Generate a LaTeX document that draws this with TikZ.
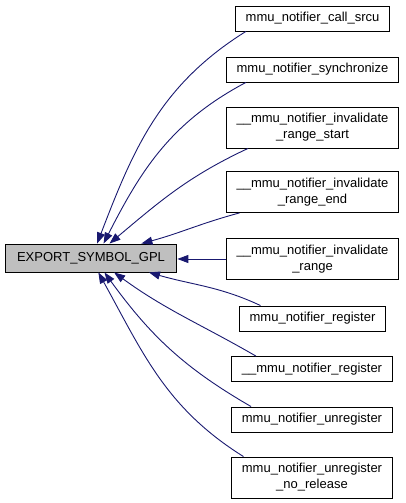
\documentclass[tikz,border=0pt]{standalone}
\usepackage{fontspec}
\setmainfont{Liberation Sans}
\usetikzlibrary{arrows.meta}

\definecolor{edgeblue}{HTML}{191970}
\definecolor{mainfill}{HTML}{BFBFBF}

\tikzset{
  fn/.style={draw=black, fill=white, line width=0.9pt, inner xsep=10.5pt,
    inner ysep=0pt, minimum height=25pt, align=center,
    font=\fontsize{13}{16}\selectfont},
  fntwo/.style={fn, minimum height=41pt},
  caller/.style={draw=edgeblue, line width=0.9pt,
    -{Triangle[length=11pt,width=8pt]}}
}

\begin{document}
\begin{tikzpicture}[x=1pt, y=1pt]

% Picture frame
\useasboundingbox (0,0) rectangle (405,503);

% Centre column of the callers
\def\colx{312.5}

% Called symbol
\node[fn, fill=mainfill, inner xsep=12pt, minimum height=28pt]
    (export) at (91,245) {EXPORT\_SYMBOL\_GPL};

% Callers
\node[fn]    (callsrcu) at (\colx,484.5) {mmu\_notifier\_call\_srcu};
\node[fn]    (sync)     at (\colx,433.5) {mmu\_notifier\_synchronize};
\node[fntwo] (invstart) at (\colx,375.5) {\_\_mmu\_notifier\_invalidate\\\_range\_start};
\node[fntwo] (invend)   at (\colx,311)   {\_\_mmu\_notifier\_invalidate\\\_range\_end};
\node[fntwo] (inv)      at (\colx,244)   {\_\_mmu\_notifier\_invalidate\\\_range};
\node[fn]    (reg)      at (\colx,184.5) {mmu\_notifier\_register};
\node[fn]    (ureg)     at (312,134)     {\_\_mmu\_notifier\_register};
\node[fn]    (unreg)    at (312,83.5)    {mmu\_notifier\_unregister};
\node[fntwo] (norel)    at (312,25.5)    {mmu\_notifier\_unregister\\\_no\_release};

% Edges above
\draw[caller] (callsrcu.191) to[out=212, in=69] (export.67);
\draw[caller] (sync.191)     to[out=208, in=63] (export.49);
\draw[caller] (invstart.198) to[out=205, in=40] (export.38);
\draw[caller] (invend.196)   to[out=195, in=15] (export.16);

% Straight edge
\draw[caller] (inv.west) -- (export.east |- inv.west);

% Edges below
\draw[caller] (reg.166)   to[out=155, in=-16] (export.-14.5);
\draw[caller] (ureg.167)  to[out=150, in=-36] (export.-32.5);
\draw[caller] (unreg.168) to[out=150, in=-54] (export.-47);
\draw[caller] (norel.163) to[out=148, in=-61] (export.-63.4);

\end{tikzpicture}
\end{document}
